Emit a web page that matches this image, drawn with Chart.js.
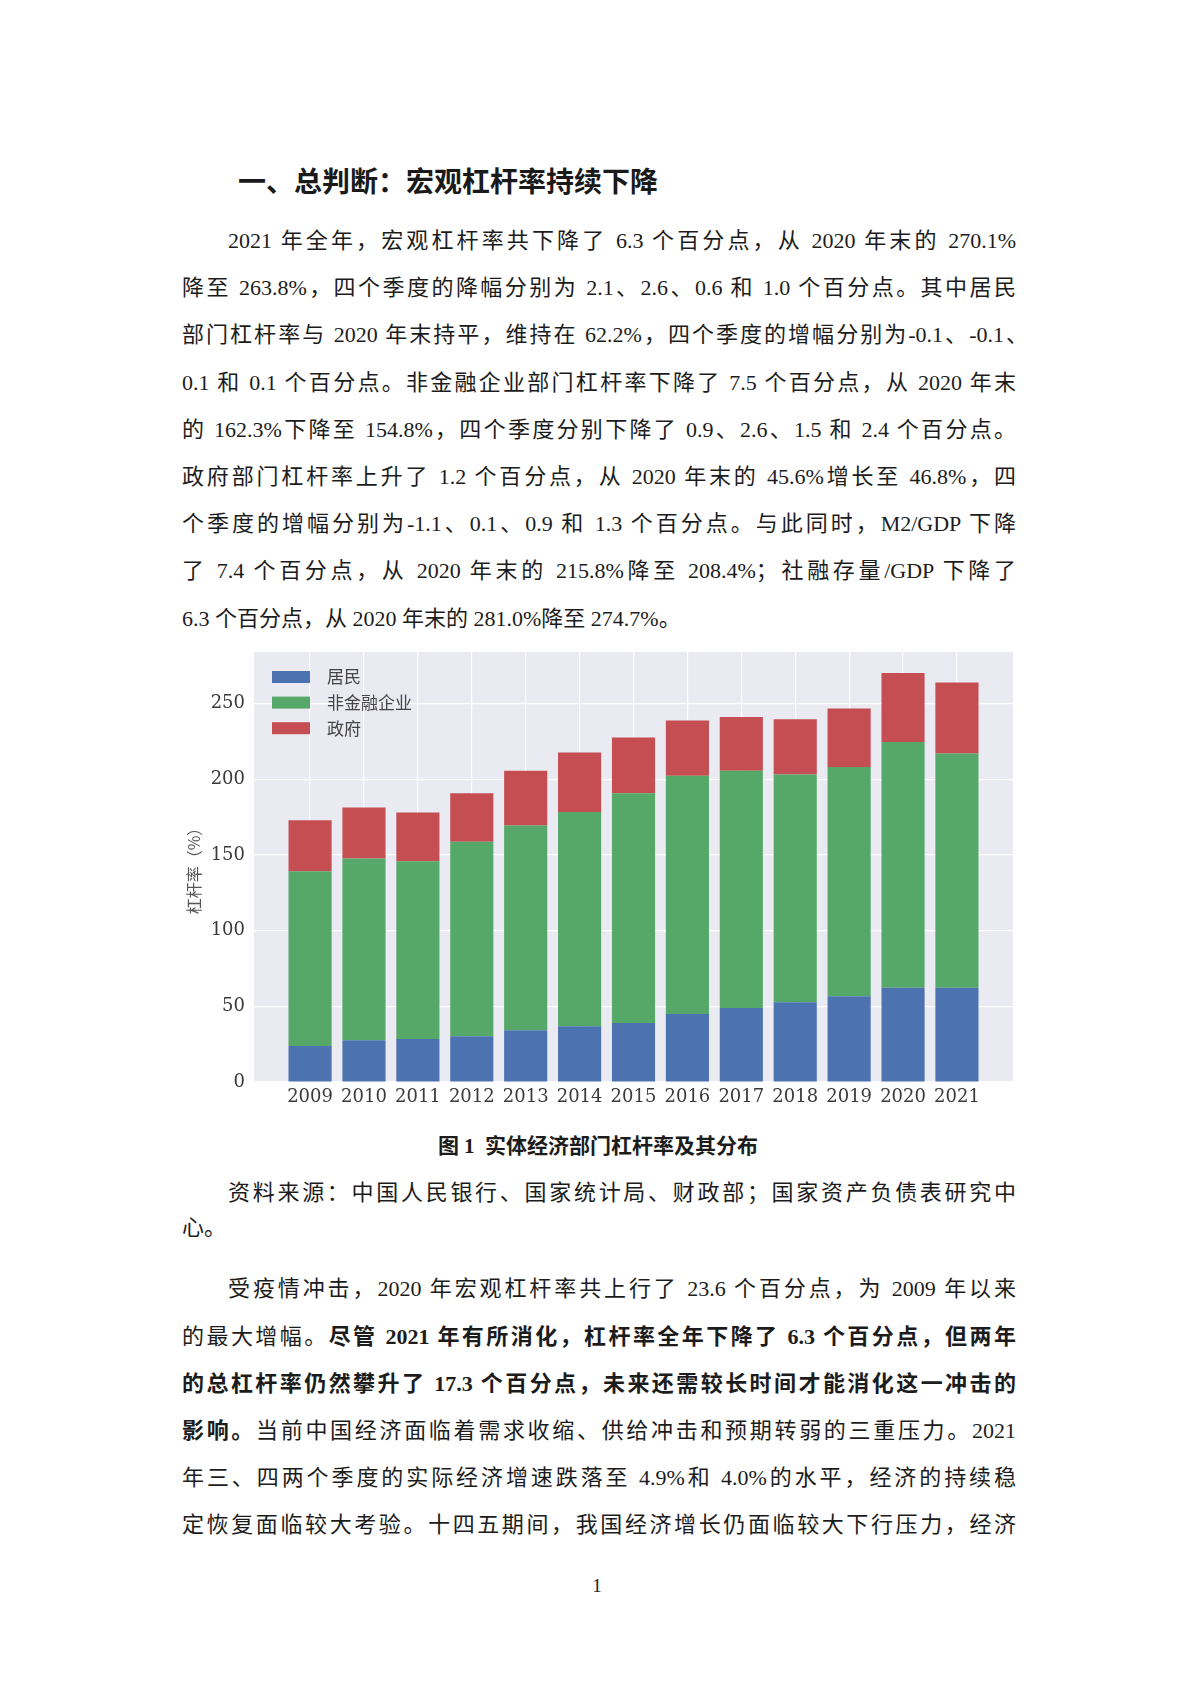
<!DOCTYPE html>
<html>
<head>
<meta charset="utf-8">
<script src="https://cdn.jsdelivr.net/npm/chart.js@4.4.1/dist/chart.umd.min.js"></script>
<style>
  html, body { margin: 0; padding: 0; background: #fff; }
  body { width: 1200px; height: 1698px; position: relative; overflow: hidden;
         font-family: "Liberation Serif", "Noto Sans CJK SC", serif; color: #1c1c1c; }
  .ln { position: absolute; left: 182px; width: 834px; height: 30px; line-height: 30px;
        font-size: 22px; white-space: nowrap; text-align: justify; text-align-last: justify; }
  .ln.ind { left: 228px; width: 788px; }
  .ln.last { text-align: left; text-align-last: left; }
  .b { font-weight: bold; }
  h1 { position: absolute; left: 238px; top: 162px; margin: 0; font-size: 28px; line-height: 36px;
       font-family: "Noto Sans CJK SC", sans-serif; font-weight: bold; color: #1a1a1a; }
  .cap { position: absolute; left: 0; width: 1196px; top: 1131px; text-align: center;
         font-size: 21px; line-height: 30px; font-weight: bold; }
  .pg { position: absolute; left: 0; width: 1194px; top: 1575px; text-align: center; font-size: 19px; }
  #wrap { position: absolute; left: 160px; top: 630px; width: 880px; height: 500px; }
</style>
</head>
<body>
<h1>一、总判断：宏观杠杆率持续下降</h1>

<div class="ln ind" style="top:226px">2021 年全年，宏观杠杆率共下降了 6.3 个百分点，从 2020 年末的 270.1%</div>
<div class="ln" style="top:273px">降至 263.8%，四个季度的降幅分别为 2.1、2.6、0.6 和 1.0 个百分点。其中居民</div>
<div class="ln" style="top:320px;width:846px">部门杠杆率与 2020 年末持平，维持在 62.2%，四个季度的增幅分别为-0.1、-0.1、</div>
<div class="ln" style="top:368px">0.1 和 0.1 个百分点。非金融企业部门杠杆率下降了 7.5 个百分点，从 2020 年末</div>
<div class="ln" style="top:415px">的 162.3%下降至 154.8%，四个季度分别下降了 0.9、2.6、1.5 和 2.4 个百分点。</div>
<div class="ln" style="top:462px">政府部门杠杆率上升了 1.2 个百分点，从 2020 年末的 45.6%增长至 46.8%，四</div>
<div class="ln" style="top:509px">个季度的增幅分别为-1.1、0.1、0.9 和 1.3 个百分点。与此同时，M2/GDP 下降</div>
<div class="ln" style="top:556px">了 7.4 个百分点，从 2020 年末的 215.8%降至 208.4%；社融存量/GDP 下降了</div>
<div class="ln last" style="top:604px">6.3 个百分点，从 2020 年末的 281.0%降至 274.7%。</div>

<div id="wrap"><canvas id="leverageChart"></canvas></div>

<div class="cap">图 1&nbsp;&nbsp;实体经济部门杠杆率及其分布</div>

<div class="ln ind" style="top:1178px">资料来源：中国人民银行、国家统计局、财政部；国家资产负债表研究中</div>
<div class="ln last" style="top:1213px">心。</div>

<div class="ln ind" style="top:1274px">受疫情冲击，2020 年宏观杠杆率共上行了 23.6 个百分点，为 2009 年以来</div>
<div class="ln" style="top:1322px">的最大增幅。<span class="b">尽管 2021 年有所消化，杠杆率全年下降了 6.3 个百分点，但两年</span></div>
<div class="ln b" style="top:1369px">的总杠杆率仍然攀升了 17.3 个百分点，未来还需较长时间才能消化这一冲击的</div>
<div class="ln" style="top:1416px"><span class="b">影响。</span>当前中国经济面临着需求收缩、供给冲击和预期转弱的三重压力。2021</div>
<div class="ln" style="top:1463px">年三、四两个季度的实际经济增速跌落至 4.9%和 4.0%的水平，经济的持续稳</div>
<div class="ln" style="top:1510px">定恢复面临较大考验。十四五期间，我国经济增长仍面临较大下行压力，经济</div>

<div class="pg">1</div>

<script>
// Chart data (leverage ratio, % of GDP)
const years = ["2009", "2010", "2011", "2012", "2013", "2014", "2015", "2016", "2017", "2018", "2019", "2020", "2021"];
const household = [23.8, 27.5, 28.4, 30.2, 34.1, 36.8, 39.0, 44.9, 48.9, 52.6, 56.6, 62.2, 62.2];
const nonFinancial = [115.4, 120.1, 117.4, 128.4, 135.3, 141.6, 151.7, 157.3, 156.6, 150.5, 151.5, 162.3, 154.8];
const government = [33.7, 33.7, 32.2, 32.1, 36.1, 39.2, 36.8, 36.6, 35.5, 36.5, 38.6, 45.6, 46.8];
const seriesNames = ["居民", "非金融企业", "政府"];
const seriesColors = ["#4C72B0", "#55A868", "#C44E52"];
const yTicks = [0, 50, 100, 150, 200, 250];

Chart.defaults.font.family = "'DejaVu Serif', serif";
Chart.defaults.color = "#3a3a3a";

const toPoints = arr => arr.map((v, i) => ({ x: i, y: v }));

// grey plot background like seaborn darkgrid
const plotBg = {
  id: 'plotBg',
  beforeDraw(chart) {
    const { ctx, chartArea: a } = chart;
    ctx.save();
    ctx.fillStyle = '#EAEAF2';
    ctx.fillRect(a.left, a.top, a.right - a.left, a.bottom - a.top);
    ctx.restore();
  }
};

// legend drawn inside the plot, top left, no frame
const innerLegend = {
  id: 'innerLegend',
  afterDatasetsDraw(chart) {
    const { ctx, chartArea: a } = chart;
    ctx.save();
    ctx.font = "17px 'Noto Sans CJK SC', sans-serif";
    ctx.textBaseline = 'middle';
    chart.data.datasets.forEach((ds, i) => {
      const y = a.top + 25 + i * 25.6;
      ctx.fillStyle = ds.backgroundColor;
      ctx.fillRect(a.left + 18, y - 6, 38, 12);
      ctx.fillStyle = '#444';
      ctx.fillText(ds.label, a.left + 73, y);
    });
    ctx.restore();
  }
};

const data = {
  datasets: [
    { label: seriesNames[0], data: toPoints(household), backgroundColor: seriesColors[0] },
    { label: seriesNames[1], data: toPoints(nonFinancial), backgroundColor: seriesColors[1] },
    { label: seriesNames[2], data: toPoints(government), backgroundColor: seriesColors[2] }
  ]
};

const config = {
  type: 'bar',
  data: data,
  options: {
    responsive: true,
    maintainAspectRatio: false,
    animation: false,
    barPercentage: 0.8,
    categoryPercentage: 1.0,
    borderWidth: 0,
    layout: { padding: { top: 22, right: 27, left: 0, bottom: 0 } },
    plugins: { legend: { display: false }, tooltip: { enabled: false } },
    scales: {
      x: {
        type: 'linear',
        stacked: true,
        offset: false,
        min: -1.04,
        max: 13.04,
        afterBuildTicks: s => { s.ticks = years.map((_, i) => ({ value: i })); },
        afterFit: s => { s.height = 48; },
        border: { display: false },
        grid: { color: '#ffffff', lineWidth: 1.2, drawTicks: false, offset: false },
        ticks: {
          padding: 5,
          autoSkip: false,
          maxRotation: 0,
          font: { size: 18 },
          callback: v => years[v]
        }
      },
      y: {
        stacked: true,
        min: 0,
        max: 284,
        afterBuildTicks: s => { s.ticks = yTicks.map(v => ({ value: v })); },
        afterFit: s => { s.width = 94; },
        border: { display: false },
        grid: { color: '#ffffff', lineWidth: 1.2, drawTicks: false },
        ticks: { padding: 9, font: { size: 18 } },
        title: {
          display: true,
          text: '杠杆率（%）',
          color: '#555',
          font: { family: "'Noto Sans CJK SC', sans-serif", size: 16 },
          padding: { top: 24, bottom: 0 }
        }
      }
    }
  },
  plugins: [plotBg, innerLegend]
};

const leverageChart = new Chart(document.getElementById('leverageChart'), config);
</script>
</body>
</html>
